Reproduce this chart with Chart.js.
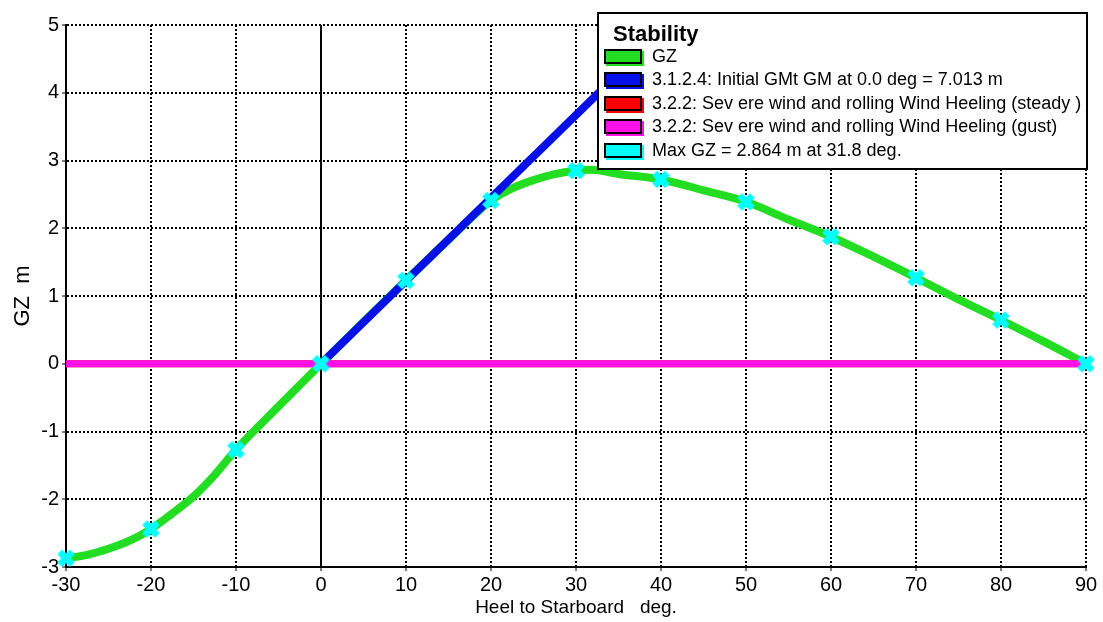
<!DOCTYPE html>
<html>
<head>
<meta charset="utf-8">
<title>Stability</title>
<script src="https://cdn.jsdelivr.net/npm/chart.js@4/dist/chart.umd.min.js"></script>
<style>
  html, body { margin: 0; padding: 0; background: #ffffff; }
  #wrap { position: relative; width: 1103px; height: 622px; }
  canvas { display: block; }
</style>
</head>
<body>
<div id="wrap"><canvas id="stability" width="1103" height="622"></canvas></div>
<script>
// Righting lever curve (heel angle in degrees, GZ in metres)
const heelAngles = [-30, -27.5, -25, -22.5, -20, -17.5, -15, -12.5, -10, -5, 0, 5, 10, 15, 20, 22.5, 25, 27.5, 30, 31.8, 35, 40, 45, 50, 55, 60, 65, 70, 75, 80, 85, 90];
const gzValues   = [-2.87, -2.82, -2.73, -2.61, -2.44, -2.21, -1.96, -1.64, -1.27, -0.63, 0, 0.62, 1.23, 1.83, 2.41, 2.59, 2.71, 2.80, 2.85, 2.864, 2.80, 2.72, 2.56, 2.39, 2.13, 1.875, 1.58, 1.27, 0.95, 0.646, 0.33, 0];

// Initial GM line: from the origin up to GM at one radian
const gmAngles = [0, 57.3];
const gmValues = [0, 7.013];

// Wind heeling arms (steady and gust)
const heelingAngles = [-30, 90];
const steadyHeeling = [0, 0];
const gustHeeling   = [0, 0];

// Axis ranges and tick spacing
const xRange = [-30, 90];
const xStep = 10;
const yRange = [-3, 5];
const yStep = 1;

const legendTitle = 'Stability';
const legendLabels = [
  'GZ',
  '3.1.2.4: Initial GMt GM at 0.0 deg = 7.013 m',
  '3.2.2: Sev ere wind and rolling Wind Heeling (steady )',
  '3.2.2: Sev ere wind and rolling Wind Heeling (gust)',
  'Max GZ = 2.864 m at 31.8 deg.'
];

const GREEN = '#22dd22';
const BLUE = '#0510e6';
const RED = '#ff0000';
const MAGENTA = '#ff10e6';
const CYAN = '#00ffff';
const legendColors = [GREEN, BLUE, RED, MAGENTA, CYAN];

const FONT = 'Liberation Sans, Arial, Helvetica, sans-serif';

const toPoints = (xs, ys) => xs.map((x, i) => ({ x: x, y: ys[i] }));
const gzPoints = toPoints(heelAngles, gzValues);
const markerPoints = gzPoints.filter(p => p.x % 10 === 0);

// Chunky cross marker used on the GZ curve
function makeCrossMarker(size, thickness, color) {
  const c = document.createElement('canvas');
  c.width = size;
  c.height = size;
  const g = c.getContext('2d');
  const m = thickness * 0.45;
  g.strokeStyle = color;
  g.lineWidth = thickness;
  g.lineCap = 'butt';
  g.beginPath();
  g.moveTo(m, m);
  g.lineTo(size - m, size - m);
  g.moveTo(size - m, m);
  g.lineTo(m, size - m);
  g.stroke();
  g.fillStyle = color;
  g.fillRect(size / 2 - thickness / 2, size / 2 - thickness / 2, thickness, thickness);
  return c;
}
const crossMarker = makeCrossMarker(19, 7, CYAN);

// Boxed legend drawn on top of the plot
const stabilityLegend = {
  id: 'stabilityLegend',
  afterDraw(chart) {
    const ctx = chart.ctx;
    const left = 597, top = 12, width = 491, height = 158;
    ctx.save();
    ctx.fillStyle = '#ffffff';
    ctx.fillRect(left, top, width, height);
    ctx.strokeStyle = '#000000';
    ctx.lineWidth = 2;
    ctx.strokeRect(left + 1, top + 1, width - 2, height - 2);

    ctx.fillStyle = '#000000';
    ctx.textBaseline = 'alphabetic';
    ctx.font = 'bold 22px ' + FONT;
    ctx.fillText(legendTitle, 613, 41);

    ctx.font = '18px ' + FONT;
    ctx.textBaseline = 'middle';
    legendLabels.forEach((label, i) => {
      const cy = 56 + i * 23.5;
      const sx = 604, sw = 38, sh = 15;
      const sy = Math.round(cy - sh / 2);
      ctx.fillStyle = legendColors[i];
      ctx.fillRect(sx + 2, sy + 2, sw, sh);
      ctx.fillRect(sx, sy, sw, sh);
      ctx.strokeStyle = '#000000';
      ctx.lineWidth = 2;
      ctx.strokeRect(sx + 1, sy + 1, sw - 2, sh - 2);
      ctx.fillStyle = '#000000';
      ctx.fillText(label, 652, cy + 1);
    });
    ctx.restore();
  }
};

const gridDash = (c) => (c.tick && c.tick.value === 0) ? [] : [2, 2];

new Chart(document.getElementById('stability'), {
  type: 'scatter',
  data: {
    datasets: [
      {
        label: legendLabels[0],
        data: gzPoints,
        showLine: true,
        borderColor: GREEN,
        backgroundColor: GREEN,
        borderWidth: 8,
        pointRadius: 0,
        cubicInterpolationMode: 'monotone',
        order: 5
      },
      {
        label: legendLabels[1],
        data: toPoints(gmAngles, gmValues),
        showLine: true,
        borderColor: BLUE,
        backgroundColor: BLUE,
        borderWidth: 8,
        pointRadius: 0,
        order: 4
      },
      {
        label: legendLabels[2],
        data: toPoints(heelingAngles, steadyHeeling),
        showLine: true,
        borderColor: RED,
        backgroundColor: RED,
        borderWidth: 7,
        pointRadius: 0,
        order: 3
      },
      {
        label: legendLabels[3],
        data: toPoints(heelingAngles, gustHeeling),
        showLine: true,
        borderColor: MAGENTA,
        backgroundColor: MAGENTA,
        borderWidth: 7,
        pointRadius: 0,
        order: 2
      },
      {
        label: legendLabels[4],
        data: markerPoints,
        showLine: false,
        pointStyle: crossMarker,
        pointRadius: 9,
        borderWidth: 0,
        borderColor: CYAN,
        backgroundColor: CYAN,
        clip: 8,
        order: 1
      }
    ]
  },
  options: {
    responsive: false,
    animation: false,
    devicePixelRatio: 1,
    layout: { padding: { top: 25, right: 17, left: 0, bottom: 0 } },
    plugins: {
      legend: { display: false },
      tooltip: { enabled: false }
    },
    scales: {
      x: {
        type: 'linear',
        min: xRange[0],
        max: xRange[1],
        afterFit: (s) => { s.height = 55; },
        ticks: {
          stepSize: xStep,
          color: '#000000',
          font: { family: FONT, size: 20 },
          padding: 2,
          maxRotation: 0,
          autoSkip: false
        },
        grid: {
          color: '#000000',
          lineWidth: 2,
          tickLength: 4,
          tickColor: '#000000',
          tickWidth: 1,
          tickBorderDash: []
        },
        border: { display: true, color: '#000000', width: 2, dash: gridDash },
        title: {
          display: true,
          text: 'Heel to Starboard   deg.',
          color: '#000000',
          font: { family: FONT, size: 19 },
          padding: { top: 0, bottom: 3 }
        }
      },
      y: {
        type: 'linear',
        min: yRange[0],
        max: yRange[1],
        afterFit: (s) => { s.width = 66; },
        ticks: {
          stepSize: yStep,
          color: '#000000',
          font: { family: FONT, size: 20 },
          padding: 3
        },
        grid: {
          color: '#000000',
          lineWidth: 2,
          tickLength: 4,
          tickColor: '#000000',
          tickWidth: 1,
          tickBorderDash: []
        },
        border: { display: true, color: '#000000', width: 2, dash: gridDash },
        title: {
          display: true,
          text: 'GZ  m',
          color: '#000000',
          font: { family: FONT, size: 22 },
          padding: { top: 10, bottom: 0 }
        }
      }
    }
  },
  plugins: [stabilityLegend]
});
</script>
</body>
</html>
